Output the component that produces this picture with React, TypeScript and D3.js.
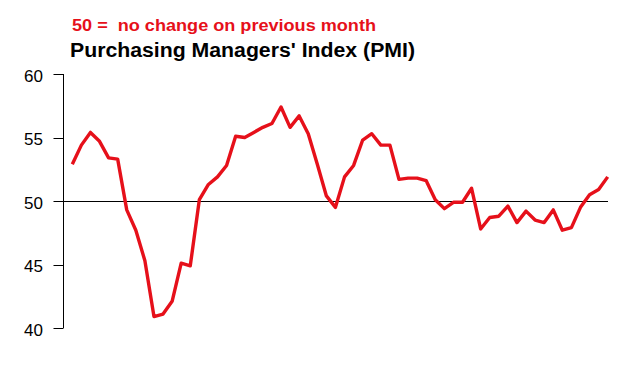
import React, { useEffect, useRef } from "react";
import * as d3 from "d3";

// monthly PMI readings
const pmiValues: number[] = [
  52.9, 54.4, 55.4, 54.7, 53.4, 53.3, 49.3, 47.7, 45.3, 40.9,
  41.1, 42.1, 45.1, 44.9, 50.1, 51.3, 51.9, 52.8, 55.1, 55.0,
  55.4, 55.8, 56.1, 57.4, 55.8, 56.7, 55.3, 52.9, 50.4, 49.5,
  51.9, 52.8, 54.8, 55.3, 54.4, 54.4, 51.7, 51.8, 51.8, 51.6,
  50.1, 49.4, 49.9, 49.9, 51.0, 47.8, 48.7, 48.8, 49.6, 48.3,
  49.2, 48.5, 48.3, 49.3, 47.7, 47.9, 49.5, 50.5, 50.9, 51.9,
];
const yTicks: number[] = [40, 45, 50, 55, 60];
const baseline = 50;
const subtitle = "50 =  no change on previous month";
const title = "Purchasing Managers' Index (PMI)";

const RED = "#e6101a";
const FONT = "Liberation Sans, Arial, sans-serif";

const App: React.FC = () => {
  const svgRef = useRef<SVGSVGElement | null>(null);

  useEffect(() => {
    if (!svgRef.current) return;
    const svg = d3.select(svgRef.current);
    svg.selectAll("*").remove();

    const width = 638;
    const height = 366;
    svg.attr("width", width).attr("height", height);

    const axisX = 63.5;
    const x = d3
      .scaleLinear()
      .domain([0, pmiValues.length - 1])
      .range([72.3, 607.7]);
    const y = d3.scaleLinear().domain([40, 60]).range([328, 74]);

    // titles
    svg
      .append("text")
      .attr("x", 72)
      .attr("y", 30.5)
      .attr("fill", RED)
      .attr("font-family", FONT)
      .attr("font-weight", "bold")
      .attr("font-size", "16px")
      .attr("textLength", 304)
      .attr("lengthAdjust", "spacingAndGlyphs")
      .style("white-space", "pre")
      .text(subtitle);

    svg
      .append("text")
      .attr("x", 70)
      .attr("y", 56.7)
      .attr("fill", "#000")
      .attr("font-family", FONT)
      .attr("font-weight", "bold")
      .attr("font-size", "20px")
      .attr("textLength", 345)
      .attr("lengthAdjust", "spacingAndGlyphs")
      .text(title);

    // y axis
    const yAxis = svg.append("g");
    yAxis
      .append("line")
      .attr("x1", axisX)
      .attr("x2", axisX)
      .attr("y1", y(60))
      .attr("y2", y(40))
      .attr("stroke", "#000")
      .attr("stroke-width", 1);

    yAxis
      .selectAll(".tick")
      .data(yTicks)
      .enter()
      .append("line")
      .attr("x1", axisX - 10)
      .attr("x2", axisX)
      .attr("y1", (d) => Math.round(y(d)) + 0.5)
      .attr("y2", (d) => Math.round(y(d)) + 0.5)
      .attr("stroke", "#000")
      .attr("stroke-width", 1);

    yAxis
      .selectAll(".label")
      .data(yTicks)
      .enter()
      .append("text")
      .attr("x", 43)
      .attr("y", (d) => y(d))
      .attr("dy", "0.45em")
      .attr("text-anchor", "end")
      .attr("font-family", FONT)
      .attr("font-size", "17px")
      .attr("fill", "#000")
      .text((d) => d.toString());

    // 50 reference line
    svg
      .append("line")
      .attr("x1", axisX)
      .attr("x2", 608)
      .attr("y1", Math.round(y(baseline)) + 0.5)
      .attr("y2", Math.round(y(baseline)) + 0.5)
      .attr("stroke", "#000")
      .attr("stroke-width", 1.2);

    // PMI line
    const line = d3
      .line<number>()
      .x((_, i) => x(i))
      .y((d) => y(d));

    svg
      .append("path")
      .datum(pmiValues)
      .attr("fill", "none")
      .attr("stroke", RED)
      .attr("stroke-width", 3.4)
      .attr("stroke-linejoin", "round")
      .attr("d", line);
  }, []);

  return (
    <div style={{ position: "absolute", left: 0, top: 0 }}>
      <svg ref={svgRef} style={{ display: "block", background: "#fff" }} />
    </div>
  );
};

export default App;
